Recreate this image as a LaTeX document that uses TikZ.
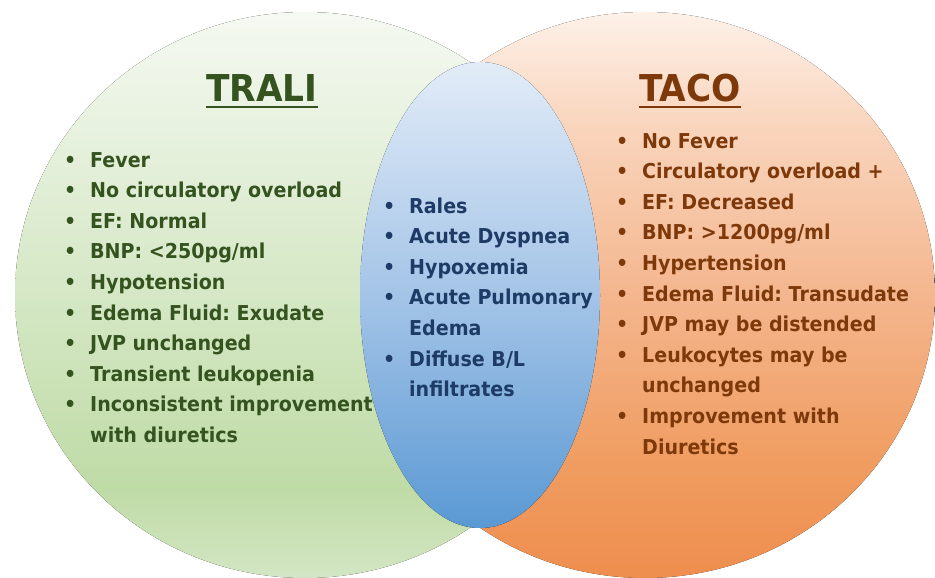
\documentclass[tikz,border=0pt]{standalone}
\usepackage{fontspec}
\setmainfont{DejaVu Sans}[FakeStretch=0.93]
\frenchspacing
\definecolor{gtxt}{HTML}{34531F}
\definecolor{otxt}{HTML}{7E390B}
\definecolor{btxt}{HTML}{1E3B66}
\definecolor{gA}{HTML}{D3E6C4}
\definecolor{gB}{HTML}{BFDBA6}
\definecolor{gC}{HTML}{F5F9F2}
\definecolor{oA}{HTML}{EE8E4E}
\definecolor{oB}{HTML}{F09C60}
\definecolor{oC}{HTML}{F4B68E}
\definecolor{oD}{HTML}{F9D5BD}
\definecolor{oE}{HTML}{FDF1E8}
\definecolor{bA}{HTML}{5A99D4}
\definecolor{bB}{HTML}{A4C4E7}
\definecolor{bC}{HTML}{E2ECF8}
\pgfdeclareverticalshading{greenshade}{100bp}{color(0bp)=(gA); color(25bp)=(gA); color(33bp)=(gB); color(75bp)=(gC); color(100bp)=(gC)}
\pgfdeclareverticalshading{orangeshade}{100bp}{color(0bp)=(oA); color(25bp)=(oA); color(35bp)=(oB); color(50bp)=(oC); color(65bp)=(oD); color(75bp)=(oE); color(100bp)=(oE)}
\pgfdeclareverticalshading{blueshade}{100bp}{color(0bp)=(bA); color(25bp)=(bA); color(50bp)=(bB); color(75bp)=(bC); color(100bp)=(bC)}
\tikzset{
  itembase/.style={anchor=base west, inner sep=0pt, font=\bfseries\fontsize{20.5}{24}\selectfont},
  itemG/.style={itembase, text=gtxt},
  itemO/.style={itembase, text=otxt},
  itemB/.style={itembase, text=btxt},
  titlebase/.style={anchor=base, inner sep=0pt, font=\bfseries\fontsize{37}{40}\selectfont},
}
\newcommand{\bul}{\llap{\textbullet\hspace{14pt}}}
\begin{document}
\begin{tikzpicture}[x=1pt,y=-1pt]
\useasboundingbox (0,0) rectangle (935,578);
\fill[white] (0,0) rectangle (935,578);
% circles
\fill[shading=orangeshade] (645,295) ellipse [x radius=290pt, y radius=283pt];
\fill[shading=greenshade] (305,295) ellipse [x radius=290pt, y radius=283pt];
\fill[shading=blueshade] (480,295) ellipse [x radius=120pt, y radius=233pt];
% titles
\node[titlebase, text=gtxt] (trali) at (262,102) {TRALI};
\node[titlebase, text=otxt] (taco) at (690,102) {TACO};
\draw[gtxt, line width=1.5pt] ([yshift=-5pt]trali.base west) -- ([yshift=-5pt]trali.base east);
\draw[otxt, line width=1.5pt] ([yshift=-5pt]taco.base west) -- ([yshift=-5pt]taco.base east);
% left list
\node[itemG] (l1) at (90,167) {\bul Fever};
\node[itemG] (l2) at (90,197.6) {\bul No circulatory overload};
\node[itemG] (l3) at (90,228.2) {\bul EF: Normal};
\node[itemG] (l4) at (90,258.8) {\bul BNP: <250pg/ml};
\node[itemG] (l5) at (90,289.4) {\bul Hypotension};
\node[itemG] (l6) at (90,320) {\bul Edema Fluid: Exudate};
\node[itemG] (l7) at (90,350.6) {\bul JVP unchanged};
\node[itemG] (l8) at (90,381.2) {\bul Transient leukopenia};
\node[itemG] (l9) at (90,411.8) {\bul Inconsistent improvement};
\node[itemG] (l9b) at (90,442.4) {with diuretics};
% middle list
\node[itemB] (m1) at (409,213) {\bul Rales};
\node[itemB] (m2) at (409,243.6) {\bul Acute Dyspnea};
\node[itemB] (m3) at (409,274.2) {\bul Hypoxemia};
\node[itemB] (m4) at (409,304.8) {\bul Acute Pulmonary};
\node[itemB] (m4b) at (409,335.4) {Edema};
\node[itemB] (m5) at (409,366) {\bul Diffuse B/L};
\node[itemB] (m5b) at (409,396.6) {infiltrates};
% right list
\node[itemO] (r1) at (642,148) {\bul No Fever};
\node[itemO] (r2) at (642,178.6) {\bul Circulatory overload +};
\node[itemO] (r3) at (642,209.2) {\bul EF: Decreased};
\node[itemO] (r4) at (642,239.8) {\bul BNP: >1200pg/ml};
\node[itemO] (r5) at (642,270.4) {\bul Hypertension};
\node[itemO] (r6) at (642,301) {\bul Edema Fluid: Transudate};
\node[itemO] (r7) at (642,331.6) {\bul JVP may be distended};
\node[itemO] (r8) at (642,362.2) {\bul Leukocytes may be};
\node[itemO] (r8b) at (642,392.8) {unchanged};
\node[itemO] (r9) at (642,423.4) {\bul Improvement with};
\node[itemO] (r9b) at (642,454) {Diuretics};
\end{tikzpicture}
\end{document}
